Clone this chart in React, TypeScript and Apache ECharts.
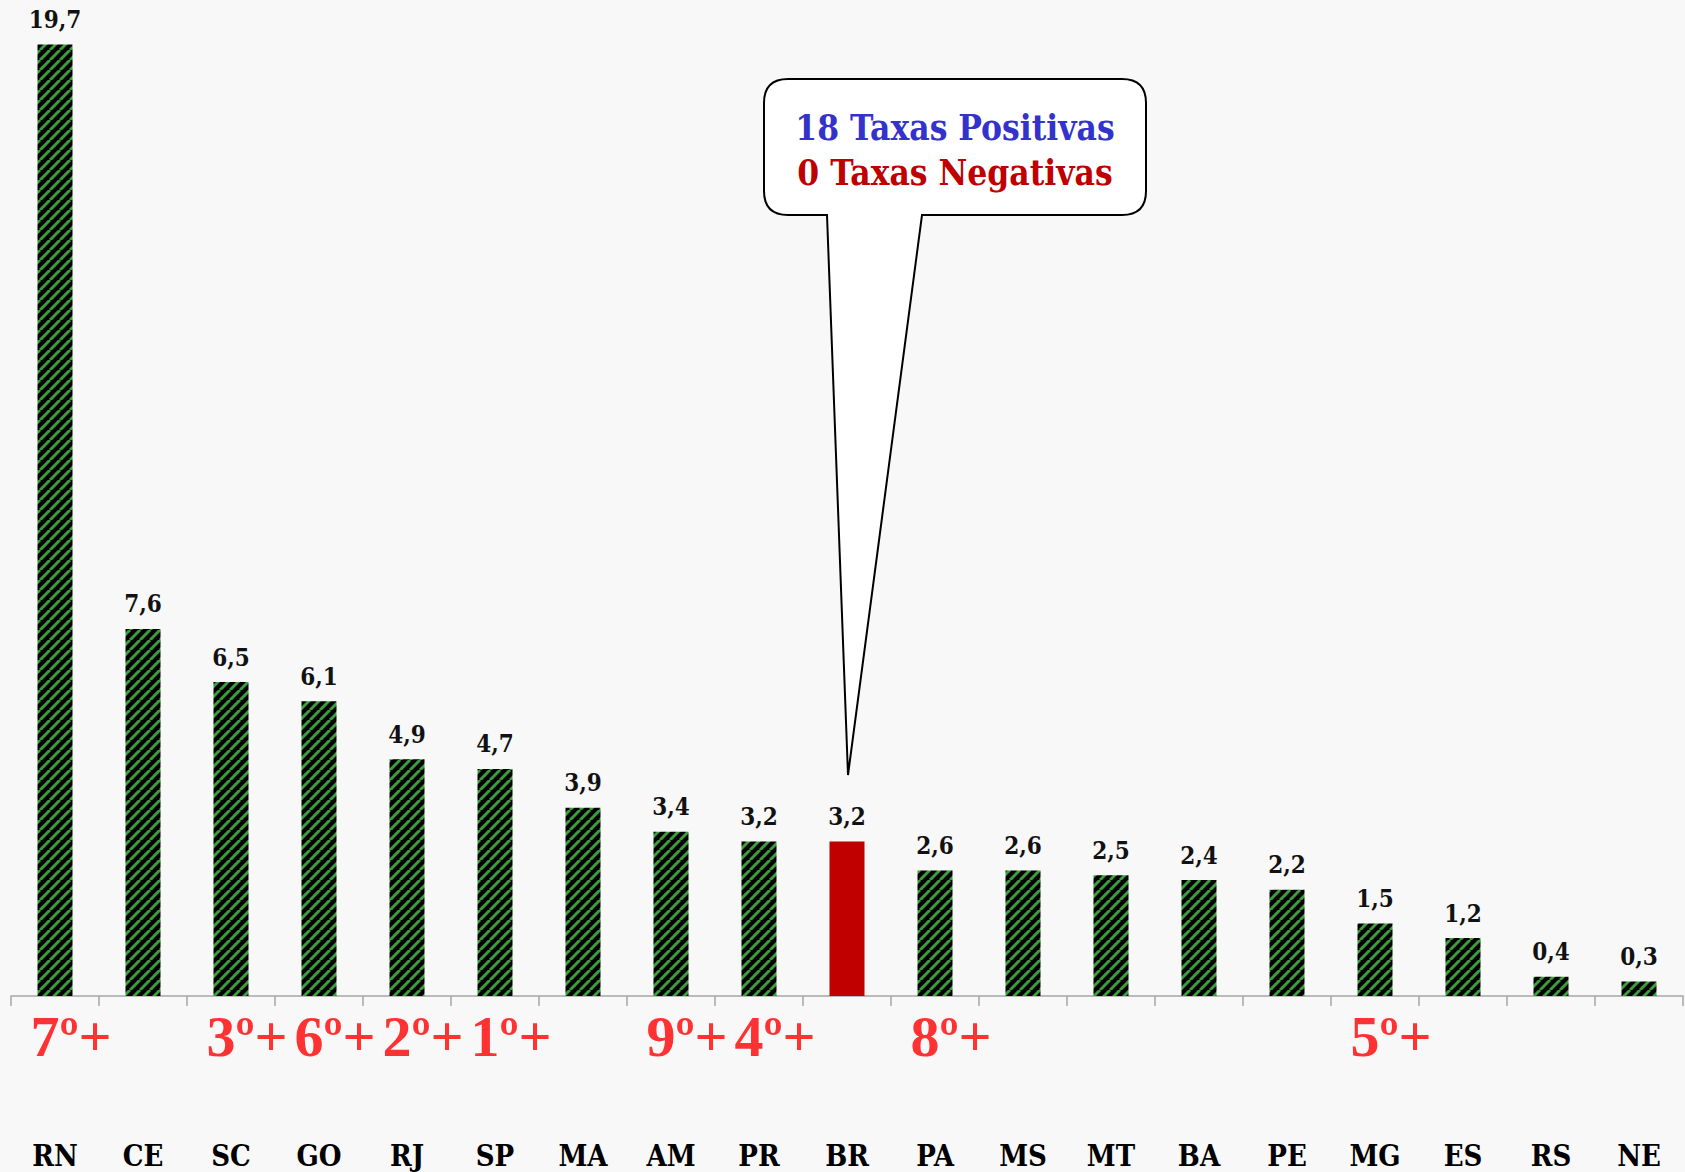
import React, { useEffect, useRef } from "react";
import * as echarts from "echarts";

const categories = ["RN", "CE", "SC", "GO", "RJ", "SP", "MA", "AM", "PR", "BR", "PA", "MS", "MT", "BA", "PE", "MG", "ES", "RS", "NE"];
const values = [19.7, 7.6, 6.5, 6.1, 4.9, 4.7, 3.9, 3.4, 3.2, 3.2, 2.6, 2.6, 2.5, 2.4, 2.2, 1.5, 1.2, 0.4, 0.3];
const ranks = ["7º", "", "3º", "6º", "2º", "1º", "", "9º", "4º", "", "8º", "", "", "", "", "5º", "", "", ""];
const highlight = "BR";
const calloutLines = ["18 Taxas Positivas", "0 Taxas Negativas"];

const SERIF = "'DejaVu Serif Condensed', 'DejaVu Serif', serif";

// callout geometry (annotation)
const bx0 = 764, by0 = 79, bx1 = 1146, by1 = 215, br = 24;
const tailL = 827, tailR = 922, tipX = 848, tipY = 775;
const calloutD =
  `M ${bx0 + br} ${by0} L ${bx1 - br} ${by0} Q ${bx1} ${by0} ${bx1} ${by0 + br} ` +
  `L ${bx1} ${by1 - br} Q ${bx1} ${by1} ${bx1 - br} ${by1} L ${tailR} ${by1} L ${tipX} ${tipY} ` +
  `L ${tailL} ${by1} L ${bx0 + br} ${by1} Q ${bx0} ${by1} ${bx0} ${by1 - br} L ${bx0} ${by0 + br} ` +
  `Q ${bx0} ${by0} ${bx0 + br} ${by0} Z`;
echarts.graphic.registerShape("callout", echarts.graphic.extendPath(calloutD, {}));

const fmt = (v: number) => v.toFixed(1).replace(".", ",");

export default function App() {
  const ref = useRef<HTMLDivElement>(null);
  useEffect(() => {
    if (!ref.current) return;
    const chart = echarts.init(ref.current, null, { renderer: "svg" });

    const tile = document.createElement("canvas");
    const T = 10;
    tile.width = T;
    tile.height = T;
    const ctx = tile.getContext("2d")!;
    ctx.fillStyle = "#000000";
    ctx.fillRect(0, 0, T, T);
    ctx.strokeStyle = "#3a9e3a";
    ctx.lineWidth = 3;
    for (const o of [-T, 0, T]) {
      ctx.beginPath();
      ctx.moveTo(o, T);
      ctx.lineTo(o + T, 0);
      ctx.stroke();
    }
    const pattern: any = { image: tile, repeat: "repeat", imageWidth: T, imageHeight: T };

    chart.setOption({
      animation: false,
      backgroundColor: "#f8f8f8",
      grid: { left: 11, right: 2, top: 30, bottom: 176 },
      xAxis: {
        type: "category",
        data: categories,
        axisLine: { lineStyle: { color: "#a6a6a6", width: 1.5 } },
        axisTick: { show: true, length: 10, lineStyle: { color: "#a6a6a6", width: 1.5 } },
        axisLabel: {
          margin: 145,
          color: "#000",
          fontFamily: SERIF,
          fontWeight: "bold",
          fontSize: 29,
        },
      },
      yAxis: { type: "value", min: 0, max: 20, show: false, splitLine: { show: false } },
      series: [
        {
          type: "bar",
          barWidth: 35,
          data: values.map((v, i) => ({
            value: v,
            itemStyle: { color: categories[i] === highlight ? "#c00000" : pattern },
          })),
          label: {
            show: true,
            position: "top",
            distance: 13,
            formatter: (p: any) => fmt(p.value),
            color: "#111",
            fontFamily: SERIF,
            fontWeight: "bold",
            fontSize: 24,
          },
        },
        {
          type: "scatter",
          symbolSize: 0,
          silent: true,
          data: ranks
            .map((r, i) => (r ? { value: [i, 0], name: r } : null))
            .filter((d) => d !== null),
          label: {
            show: true,
            position: "inside",
            offset: [16, 40],
            formatter: (p: any) => p.name + "+",
            color: "#ff0000",
            fontFamily: "'Liberation Serif', 'Times New Roman', serif",
            fontWeight: "bold",
            fontSize: 58,
          },
        },
      ],
      graphic: [
        {
          type: "callout",
          x: 0,
          y: 0,
          z: 10,
          style: { fill: "#ffffff", stroke: "#000000", lineWidth: 2 },
        },
        {
          type: "text",
          x: (bx0 + bx1) / 2,
          y: 127,
          z: 11,
          style: {
            text: calloutLines[0],
            fill: "#3333cc",
            fontFamily: SERIF,
            fontWeight: "bold",
            fontSize: 35,
            align: "center",
            verticalAlign: "middle",
            textAlign: "center",
            textVerticalAlign: "middle",
          },
        },
        {
          type: "text",
          x: (bx0 + bx1) / 2,
          y: 172,
          z: 11,
          style: {
            text: calloutLines[1],
            fill: "#c00000",
            fontFamily: SERIF,
            fontWeight: "bold",
            fontSize: 35,
            align: "center",
            verticalAlign: "middle",
            textAlign: "center",
            textVerticalAlign: "middle",
          },
        },
      ],
    });
    return () => chart.dispose();
  }, []);
  return (
    <div
      ref={ref}
      style={{ position: "absolute", left: 0, top: 0, width: 1685, height: 1172 }}
    />
  );
}
